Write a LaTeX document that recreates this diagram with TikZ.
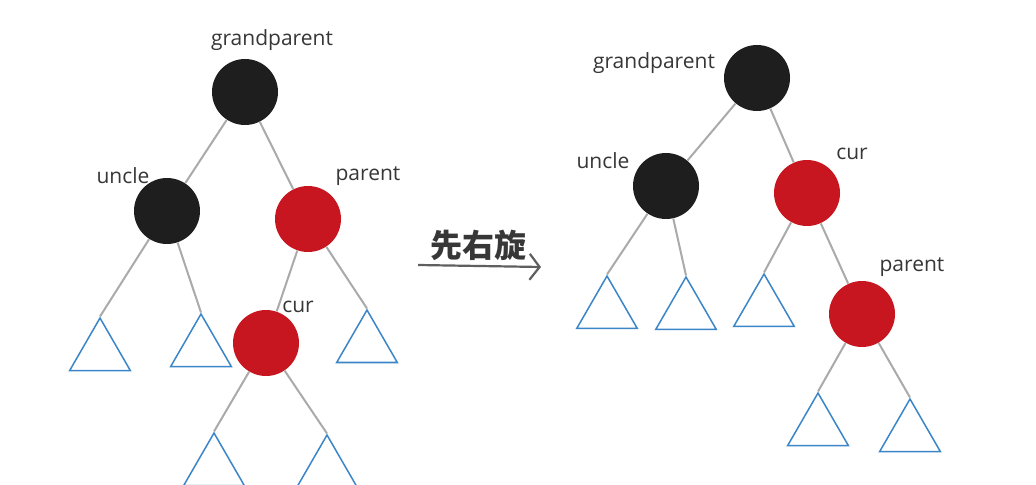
\documentclass[tikz,border=0pt]{standalone}
\usepackage{fontspec}
\setmainfont{Open Sans}
\newfontfamily\cjkfont{Noto Sans CJK SC}
\usetikzlibrary{arrows.meta, shapes.geometric}
\definecolor{blacknode}{RGB}{30,30,30}
\definecolor{rednode}{RGB}{200,22,32}
\definecolor{edgegray}{RGB}{170,170,170}
\definecolor{triblue}{RGB}{58,134,200}
\definecolor{labelgray}{RGB}{55,55,55}

\begin{document}
\begin{tikzpicture}[x=0.5pt,y=-0.5pt,
  blk/.style={circle,fill=blacknode,minimum size=33pt,inner sep=0pt},
  rd/.style={circle,fill=rednode,minimum size=33pt,inner sep=0pt},
  tri/.style={regular polygon,regular polygon sides=3,draw=triblue,line width=0.75pt,minimum size=35pt,inner sep=0pt},
  lbl/.style={font=\fontsize{10.5}{12}\selectfont,color=labelgray},
  edge/.style={edgegray,line width=1pt}]
  \clip (0,0) rectangle (1036,485);
  \fill[white] (0,0) rectangle (1036,485);
  % left tree
  \node[blk] (gpL) at (245,92) {};
  \node[blk] (unL) at (167,211) {};
  \node[rd] (paL) at (308,219) {};
  \node[rd] (cuL) at (266,343) {};
  \node[lbl] (gpLl) at (272,40) {grandparent};
  \node[lbl] (unLl) at (123,176) {uncle};
  \node[lbl] (paLl) at (368,176) {parent};
  \node[lbl] (cuLl) at (298,307) {cur};
  \node[tri] (tL1) at (100,353) {};
  \node[tri] (tL2) at (201,349) {};
  \node[tri] (tL3) at (367,345) {};
  \node[tri] (tL4) at (214,468) {};
  \node[tri] (tL5) at (327,470) {};
  \draw[edge] (gpL) -- (unL);
  \draw[edge] (gpL) -- (paL);
  \draw[edge] (paL) -- (cuL);
  \draw[edge] (unL) -- (tL1.corner 1);
  \draw[edge] (unL) -- (tL2.corner 1);
  \draw[edge] (paL) -- (tL3.corner 1);
  \draw[edge] (cuL) -- (tL4.corner 1);
  \draw[edge] (cuL) -- (tL5.corner 1);
  % rotation arrow
  \node[font=\cjkfont\bfseries\fontsize{16}{18}\selectfont,color=labelgray] (rot) at (478,245) {先右旋};
  \coordinate (arrS) at (418,265);
  \coordinate (arrE) at (541,267);
  \draw[labelgray!80,line width=1.1pt,-{Straight Barb[length=5pt,width=13pt]}] (arrS) -- (arrE);
  % right tree
  \node[blk] (gpR) at (757,78) {};
  \node[blk] (unR) at (666,186) {};
  \node[rd] (cuR) at (807,193) {};
  \node[rd] (paR) at (862,314) {};
  \node[lbl] (gpRl) at (654,63) {grandparent};
  \node[lbl] (unRl) at (603,161) {uncle};
  \node[lbl] (cuRl) at (852,154) {cur};
  \node[lbl] (paRl) at (912,267) {parent};
  \node[tri] (tR1) at (607,311) {};
  \node[tri] (tR2) at (686,312) {};
  \node[tri] (tR3) at (764,309) {};
  \node[tri] (tR4) at (818,428) {};
  \node[tri] (tR5) at (910,434) {};
  \draw[edge] (gpR) -- (unR);
  \draw[edge] (gpR) -- (cuR);
  \draw[edge] (cuR) -- (paR);
  \draw[edge] (unR) -- (tR1.corner 1);
  \draw[edge] (unR) -- (tR2.corner 1);
  \draw[edge] (cuR) -- (tR3.corner 1);
  \draw[edge] (paR) -- (tR4.corner 1);
  \draw[edge] (paR) -- (tR5.corner 1);
\end{tikzpicture}
\end{document}
